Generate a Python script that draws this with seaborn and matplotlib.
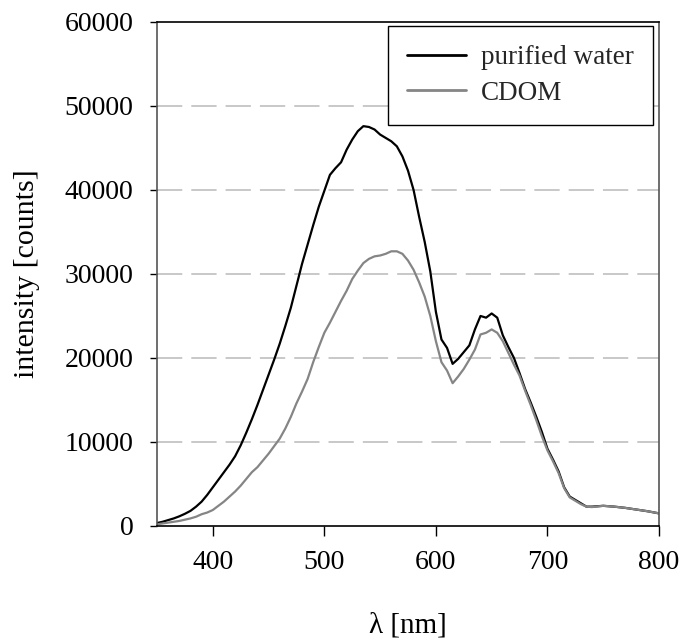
import matplotlib
matplotlib.use("Agg")
import matplotlib.pyplot as plt
import seaborn as sns
import pandas as pd

# Emission spectra: wavelength [nm] and intensity [counts]
wavelength = [350, 355, 360, 365, 370, 375, 380, 385, 390, 395,
              400, 405, 410, 415, 420, 425, 430, 435, 440, 445,
              450, 455, 460, 465, 470, 475, 480, 485, 490, 495,
              500, 505, 510, 515, 520, 525, 530, 535, 540, 545,
              550, 555, 560, 565, 570, 575, 580, 585, 590, 595,
              600, 605, 610, 615, 620, 625, 630, 635, 640, 645,
              650, 655, 660, 665, 670, 675, 680, 685, 690, 695,
              700, 705, 710, 715, 720, 725, 730, 735, 740, 750,
              760, 770, 780, 790, 800]

purified_water = [350, 500, 700, 900, 1150, 1450, 1800, 2300, 2900, 3700,
                  4600, 5500, 6400, 7300, 8300, 9600, 11100, 12700, 14400, 16200,
                  18000, 19800, 21700, 23800, 26000, 28600, 31200, 33500, 35800, 38000,
                  39900, 41800, 42600, 43300, 44800, 46000, 47000, 47600, 47500, 47200,
                  46600, 46200, 45800, 45200, 44000, 42300, 40000, 36800, 33800, 30300,
                  25500, 22200, 21200, 19300, 19900, 20700, 21500, 23400, 25000, 24800,
                  25300, 24800, 22700, 21300, 20000, 18200, 16300, 14700, 13000, 11200,
                  9200, 7900, 6500, 4600, 3500, 3100, 2700, 2300, 2300, 2400,
                  2300, 2150, 1950, 1750, 1500]

cdom = [200, 300, 400, 500, 600, 750, 900, 1100, 1400, 1600,
        1900, 2400, 2900, 3500, 4100, 4800, 5600, 6400, 7000, 7800,
        8600, 9500, 10400, 11600, 13000, 14600, 16000, 17500, 19500, 21300,
        23000, 24200, 25500, 26800, 28000, 29400, 30400, 31300, 31800, 32100,
        32200, 32400, 32700, 32700, 32400, 31600, 30500, 29000, 27300, 25000,
        22000, 19500, 18500, 17000, 17800, 18700, 19800, 21000, 22800, 23000,
        23400, 23000, 22000, 20600, 19200, 17900, 16100, 14400, 12600, 10700,
        9000, 7700, 6300, 4500, 3400, 3000, 2600, 2300, 2250, 2400,
        2300, 2150, 1950, 1750, 1500]

series_names = ["purified water", "CDOM"]
x_ticks = [400, 500, 600, 700, 800]
y_ticks = [0, 10000, 20000, 30000, 40000, 50000, 60000]

df = pd.DataFrame({
    "wavelength": wavelength * 2,
    "intensity": purified_water + cdom,
    "sample": [series_names[0]] * len(wavelength) + [series_names[1]] * len(wavelength),
})

sns.set_theme(style="white")
plt.rcParams["font.family"] = ["Liberation Serif", "DejaVu Serif"]

fig = plt.figure(figsize=(6.86, 6.43), dpi=100)
ax = fig.add_axes([0.2289, 0.1820, 0.9606 - 0.2289, 0.9658 - 0.1820])

# dashed horizontal guide lines
for y in y_ticks[1:-1]:
    ax.axhline(y, color="#c4c4c4", lw=1.3, dashes=(14, 5), zorder=0)

sns.lineplot(data=df, x="wavelength", y="intensity", hue="sample",
             palette={"purified water": "#000000", "CDOM": "#858585"},
             linewidth=1.6, ax=ax, sort=False)

ax.set_xlim(350, 800)
ax.set_ylim(0, 60000)
ax.set_xticks(x_ticks)
ax.set_yticks(y_ticks)
ax.set_xticklabels([str(t) for t in x_ticks], fontsize=20)
ax.set_yticklabels([str(t) for t in y_ticks], fontsize=20)
ax.tick_params(axis="x", direction="out", length=7, width=1, color="black",
               pad=10, bottom=True, labelcolor="black")
ax.tick_params(axis="y", direction="out", length=5, width=1, color="black",
               pad=12, left=True, labelcolor="black")

ax.set_xlabel("λ [nm]", fontsize=21, labelpad=27, color="black")
ax.set_ylabel("intensity [counts]", fontsize=21.5, labelpad=18, color="black")

for side in ["top", "bottom"]:
    ax.spines[side].set_color("black")
    ax.spines[side].set_linewidth(1.2)
for side in ["left", "right"]:
    ax.spines[side].set_color("#555555")
    ax.spines[side].set_linewidth(1.2)

leg = ax.legend(loc="upper right", bbox_to_anchor=(0.988, 0.992), fontsize=19.5,
                frameon=True, fancybox=False, shadow=False, borderpad=0.7,
                handlelength=2.2, handletextpad=0.55, labelspacing=0.4,
                borderaxespad=0.0)
leg.get_frame().set_edgecolor("black")
leg.get_frame().set_linewidth(1.0)
leg.get_frame().set_facecolor("white")
leg.get_frame().set_alpha(1.0)
for line in leg.get_lines():
    line.set_linewidth(2.0)

fig.savefig("out.png", dpi=100, facecolor="white")
